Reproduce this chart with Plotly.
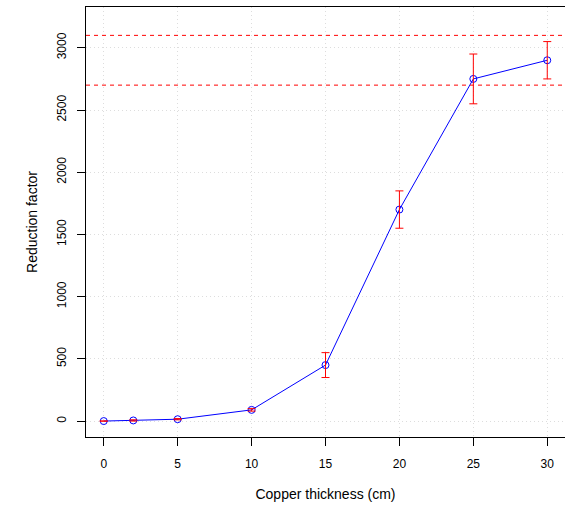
import plotly.graph_objects as go

thickness = [0, 2, 5, 10, 15, 20, 25, 30]
reduction = [0, 5, 15, 90, 450, 1700, 2750, 2900]
errors = [0, 5, 5, 10, 100, 150, 200, 150]
ref_lines = [2700, 3100]
x_ticks = [0, 5, 10, 15, 20, 25, 30]
y_ticks = [0, 500, 1000, 1500, 2000, 2500, 3000]

fig = go.Figure()
fig.add_trace(go.Scatter(
    x=thickness, y=reduction, mode="lines+markers",
    line=dict(color="blue", width=1),
    marker=dict(symbol="circle-open", size=7, color="blue", line=dict(width=1)),
    showlegend=False, hoverinfo="skip",
))
fig.add_trace(go.Scatter(
    x=thickness, y=reduction, mode="markers",
    marker=dict(size=1, color="rgba(0,0,0,0)"),
    error_y=dict(type="data", array=errors, visible=True, color="red",
                 thickness=1, width=4),
    showlegend=False,
))
for v in ref_lines:
    fig.add_shape(type="line", xref="paper", x0=0, x1=1, yref="y", y0=v, y1=v,
                  line=dict(color="#ff0000", width=1, dash="4px,4px"))

font = dict(family="Liberation Sans, Arial, sans-serif", size=12, color="black")
fig.update_layout(
    width=565, height=505,
    margin=dict(l=86, r=0, t=7, b=68),
    plot_bgcolor="white", paper_bgcolor="white",
    font=font,
    xaxis=dict(range=[-1.2, 31.2], tickvals=x_ticks, showline=True, mirror=True,
               linecolor="black", linewidth=1, ticks="outside", ticklen=8,
               tickcolor="black", showgrid=True, gridcolor="#dddddd",
               griddash="1px,3px", zeroline=False, ticklabelstandoff=8,
               title=dict(text="Copper thickness (cm)", standoff=18)),
    yaxis=dict(range=[-128, 3328], tickvals=y_ticks, showline=True, mirror=True,
               linecolor="black", linewidth=1, ticks="outside", ticklen=8,
               tickcolor="black", showgrid=True, gridcolor="#dddddd",
               griddash="1px,3px", zeroline=False, tickangle=-90,
               ticklabelstandoff=6,
               title=dict(text="Reduction factor", standoff=14)),
)
fig.write_html("out.html")
